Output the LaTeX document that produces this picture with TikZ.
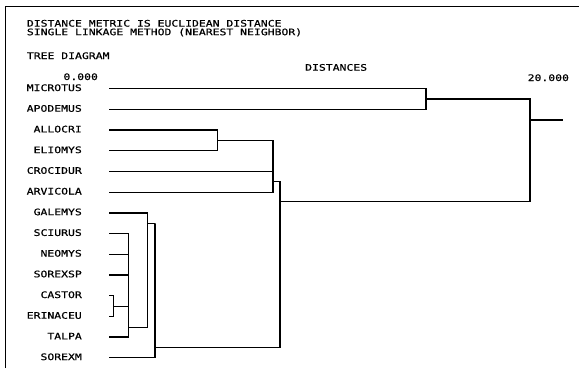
\documentclass[tikz,border=0pt]{standalone}
\usepackage{fontspec}
\newfontfamily\sysfont[FakeStretch=1.27,FakeBold=0.6]{DejaVu Sans Mono}
\begin{document}
\begin{tikzpicture}[x=1pt,y=-1pt,
  txt/.style={font=\sysfont\fontsize{9}{10}\selectfont, inner sep=0pt, text=black},
  leaf/.style={txt, anchor=base east},
  head/.style={txt, anchor=base west},
  br/.style={line width=1.3pt, line join=miter},
  frame/.style={line width=0.9pt}]
\useasboundingbox (0,0) rectangle (579,368);
\fill[white] (0,0) rectangle (579,368);
\draw[frame] (5,368) -- (5,6) -- (579,6);
% header texts
\node[head] (h1) at (26.7,26.6) {DISTANCE METRIC IS EUCLIDEAN DISTANCE};
\node[head] (h2) at (26.7,35.2) {SINGLE LINKAGE METHOD (NEAREST NEIGHBOR)};
\node[head] (h3) at (26.7,59) {TREE DIAGRAM};
\node[head] (s0) at (63.3,80) {0.000};
\node[head] (dist) at (305,70.7) {DISTANCES};
\node[head] (s20) at (527.5,81) {20.000};
% leaves
\foreach \n/\t/\i in {mic/MICROTUS/0, apo/APODEMUS/1, all/ALLOCRI/2, eli/ELIOMYS/3,
  cro/CROCIDUR/4, arv/ARVICOLA/5, gal/GALEMYS/6, sci/SCIURUS/7, neo/NEOMYS/8,
  sorsp/SOREXSP/9, cas/CASTOR/10, eri/ERINACEU/11, tal/TALPA/12, sorm/SOREXM/13}{
  \node[leaf] (\n-lbl) at (82,{88.7+20.7*\i+2.3}) {\t};
  \coordinate (\n) at (109.3,{88.7+20.7*\i});
}
% junction coordinates
\coordinate (jMA) at (426,99);
\coordinate (root) at (530,120);
\coordinate (rootEnd) at (563,120);
\coordinate (jAE) at (217.3,140.4);
\coordinate (k273) at (273,181.7);
\coordinate (k280) at (280,201.7);
\coordinate (k280b) at (280,347.7);
\coordinate (k155) at (155,223.3);
\coordinate (k148) at (147.7,223.3);
\coordinate (k148b) at (147.7,327.3);
\coordinate (k128) at (128.3,327.3);
\coordinate (k113) at (113.3,306.2);
% upper part
\draw[br] (mic) -| (jMA) |- (apo);
\draw[br] (jMA) -| (root) -- (rootEnd);
\draw[br] (all) -| (jAE) |- (eli);
\draw[br] (jAE) -| (k273) |- (arv);
\draw[br] (cro) -- (cro -| k273);
\draw[br] (k273) -| (k280) -| (root);
% lower part
\draw[br] (k280) -- (k280b) -| (k155) |- (sorm);
\draw[br] (k148) -- (k155);
\draw[br] (gal) -| (k148b) -- (k128);
\draw[br] (sci) -| (k128) |- (tal);
\draw[br] (neo) -- (neo -| k128);
\draw[br] (sorsp) -- (sorsp -| k128);
\draw[br] (cas) -| (k113) |- (eri);
\draw[br] (k113) -- (k113 -| k128);
\end{tikzpicture}
\end{document}
